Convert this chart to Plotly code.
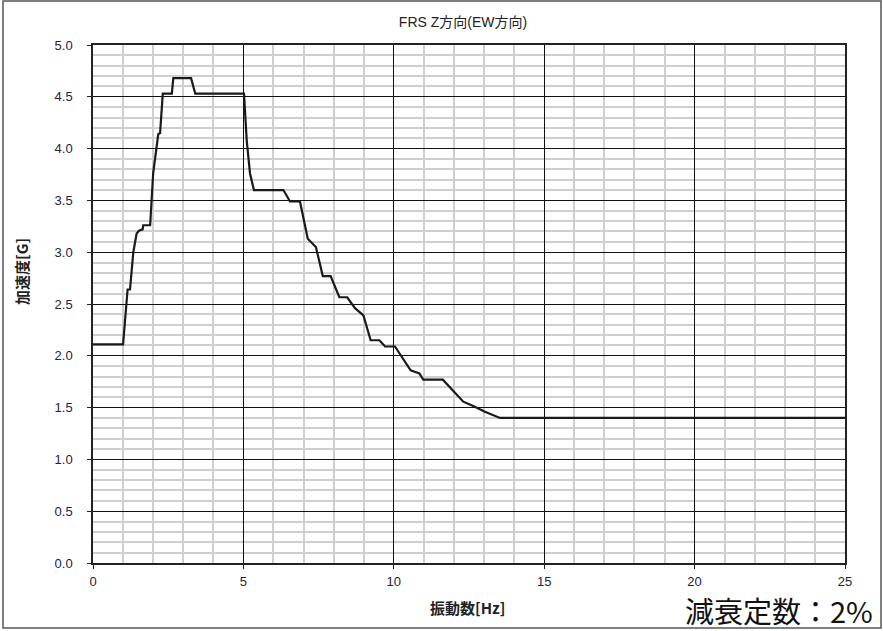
import plotly.graph_objects as go

# Floor response spectrum, Z direction (EW), damping 2%
freq_hz = [0, 1.0, 1.15, 1.23, 1.34, 1.45, 1.54, 1.65, 1.67, 1.9, 2.0, 2.12, 2.17,
           2.23, 2.32, 2.62, 2.67, 3.26, 3.40, 5.02, 5.11, 5.22, 5.35, 6.33, 6.55,
           6.88, 7.14, 7.41, 7.64, 7.90, 8.19, 8.45, 8.71, 8.99, 9.23, 9.52, 9.71,
           10.04, 10.32, 10.56, 10.85, 10.98, 11.63, 12.31, 12.64, 13.03, 13.53, 25]
accel_g = [2.11, 2.11, 2.64, 2.64, 3.0, 3.18, 3.21, 3.22, 3.26, 3.26, 3.76, 4.02, 4.14,
           4.15, 4.53, 4.53, 4.68, 4.68, 4.53, 4.53, 4.08, 3.76, 3.60, 3.60, 3.49,
           3.49, 3.13, 3.05, 2.77, 2.77, 2.565, 2.565, 2.46, 2.39, 2.15, 2.15, 2.09,
           2.09, 1.96, 1.86, 1.83, 1.77, 1.77, 1.557, 1.515, 1.46, 1.40, 1.40]

title_text = "FRS Z方向(EW方向)"
x_title = "振動数[Hz]"
y_title = "加速度[G]"
damping_text = "減衰定数：2%"

W, H = 883, 631
L, R, T, B = 93, 38, 45, 68
pw, ph = W - L - R, H - T - B


def px_x(px):
    return (px - L) / pw


def px_y(py):
    return (H - B - py) / ph


tick_font = dict(family="Liberation Sans, Arial, sans-serif", size=13, color="#1c2340")
cjk = "Noto Sans CJK JP, sans-serif"

fig = go.Figure()
fig.add_trace(go.Scatter(
    x=freq_hz, y=accel_g, mode="lines",
    line=dict(color="#1a1a1a", width=2.2),
    hoverinfo="x+y", showlegend=False,
))

fig.update_layout(
    width=W, height=H,
    margin=dict(l=L, r=R, t=T, b=B),
    paper_bgcolor="white", plot_bgcolor="white",
    title=dict(text=title_text, x=463 / W, xref="container", xanchor="center",
               y=1 - 22 / H, yref="container", yanchor="middle",
               font=dict(family="Liberation Sans, " + cjk, size=14, color="#222")),
    xaxis=dict(range=[0, 25], dtick=5, tick0=0,
               showgrid=True, gridcolor="#111", gridwidth=1.2,
               minor=dict(dtick=1, showgrid=True, gridcolor="#cfcfcf", gridwidth=1.5),
               showline=True, linecolor="#222", linewidth=1.5, mirror=True,
               ticks="outside", ticklen=4, tickcolor="#222", ticklabelstandoff=2,
               tickfont=tick_font, zeroline=False, fixedrange=True),
    yaxis=dict(range=[0, 5], dtick=0.5, tick0=0, tickformat=".1f",
               showgrid=True, gridcolor="#111", gridwidth=1.2,
               minor=dict(dtick=0.1, showgrid=True, gridcolor="#cfcfcf", gridwidth=1.5),
               showline=True, linecolor="#222", linewidth=1.5, mirror=True,
               ticks="outside", ticklen=4, tickcolor="#222", ticklabelstandoff=12,
               tickfont=tick_font, zeroline=False, fixedrange=True),
)

# outer frame around the whole chart
fig.add_shape(type="rect", xref="paper", yref="paper",
              x0=px_x(3), x1=px_x(881), y0=px_y(628), y1=px_y(1),
              line=dict(color="#555", width=1.5), fillcolor="rgba(0,0,0,0)", layer="above")

fig.add_annotation(text="<b>" + y_title + "</b>", xref="paper", yref="paper",
                   x=px_x(21), y=px_y(272), textangle=-90, showarrow=False,
                   xanchor="center", yanchor="middle",
                   font=dict(family=cjk, size=15, color="#222"))
fig.add_annotation(text="<b>" + x_title + "</b>", xref="paper", yref="paper",
                   x=px_x(467), y=px_y(607), showarrow=False,
                   xanchor="center", yanchor="middle",
                   font=dict(family=cjk, size=15, color="#222"))
fig.add_annotation(text=damping_text, xref="paper", yref="paper",
                   x=px_x(874), y=px_y(610), showarrow=False,
                   xanchor="right", yanchor="middle", borderpad=0,
                   font=dict(family=cjk, size=29, color="#111"))

fig.write_html("out.html")
